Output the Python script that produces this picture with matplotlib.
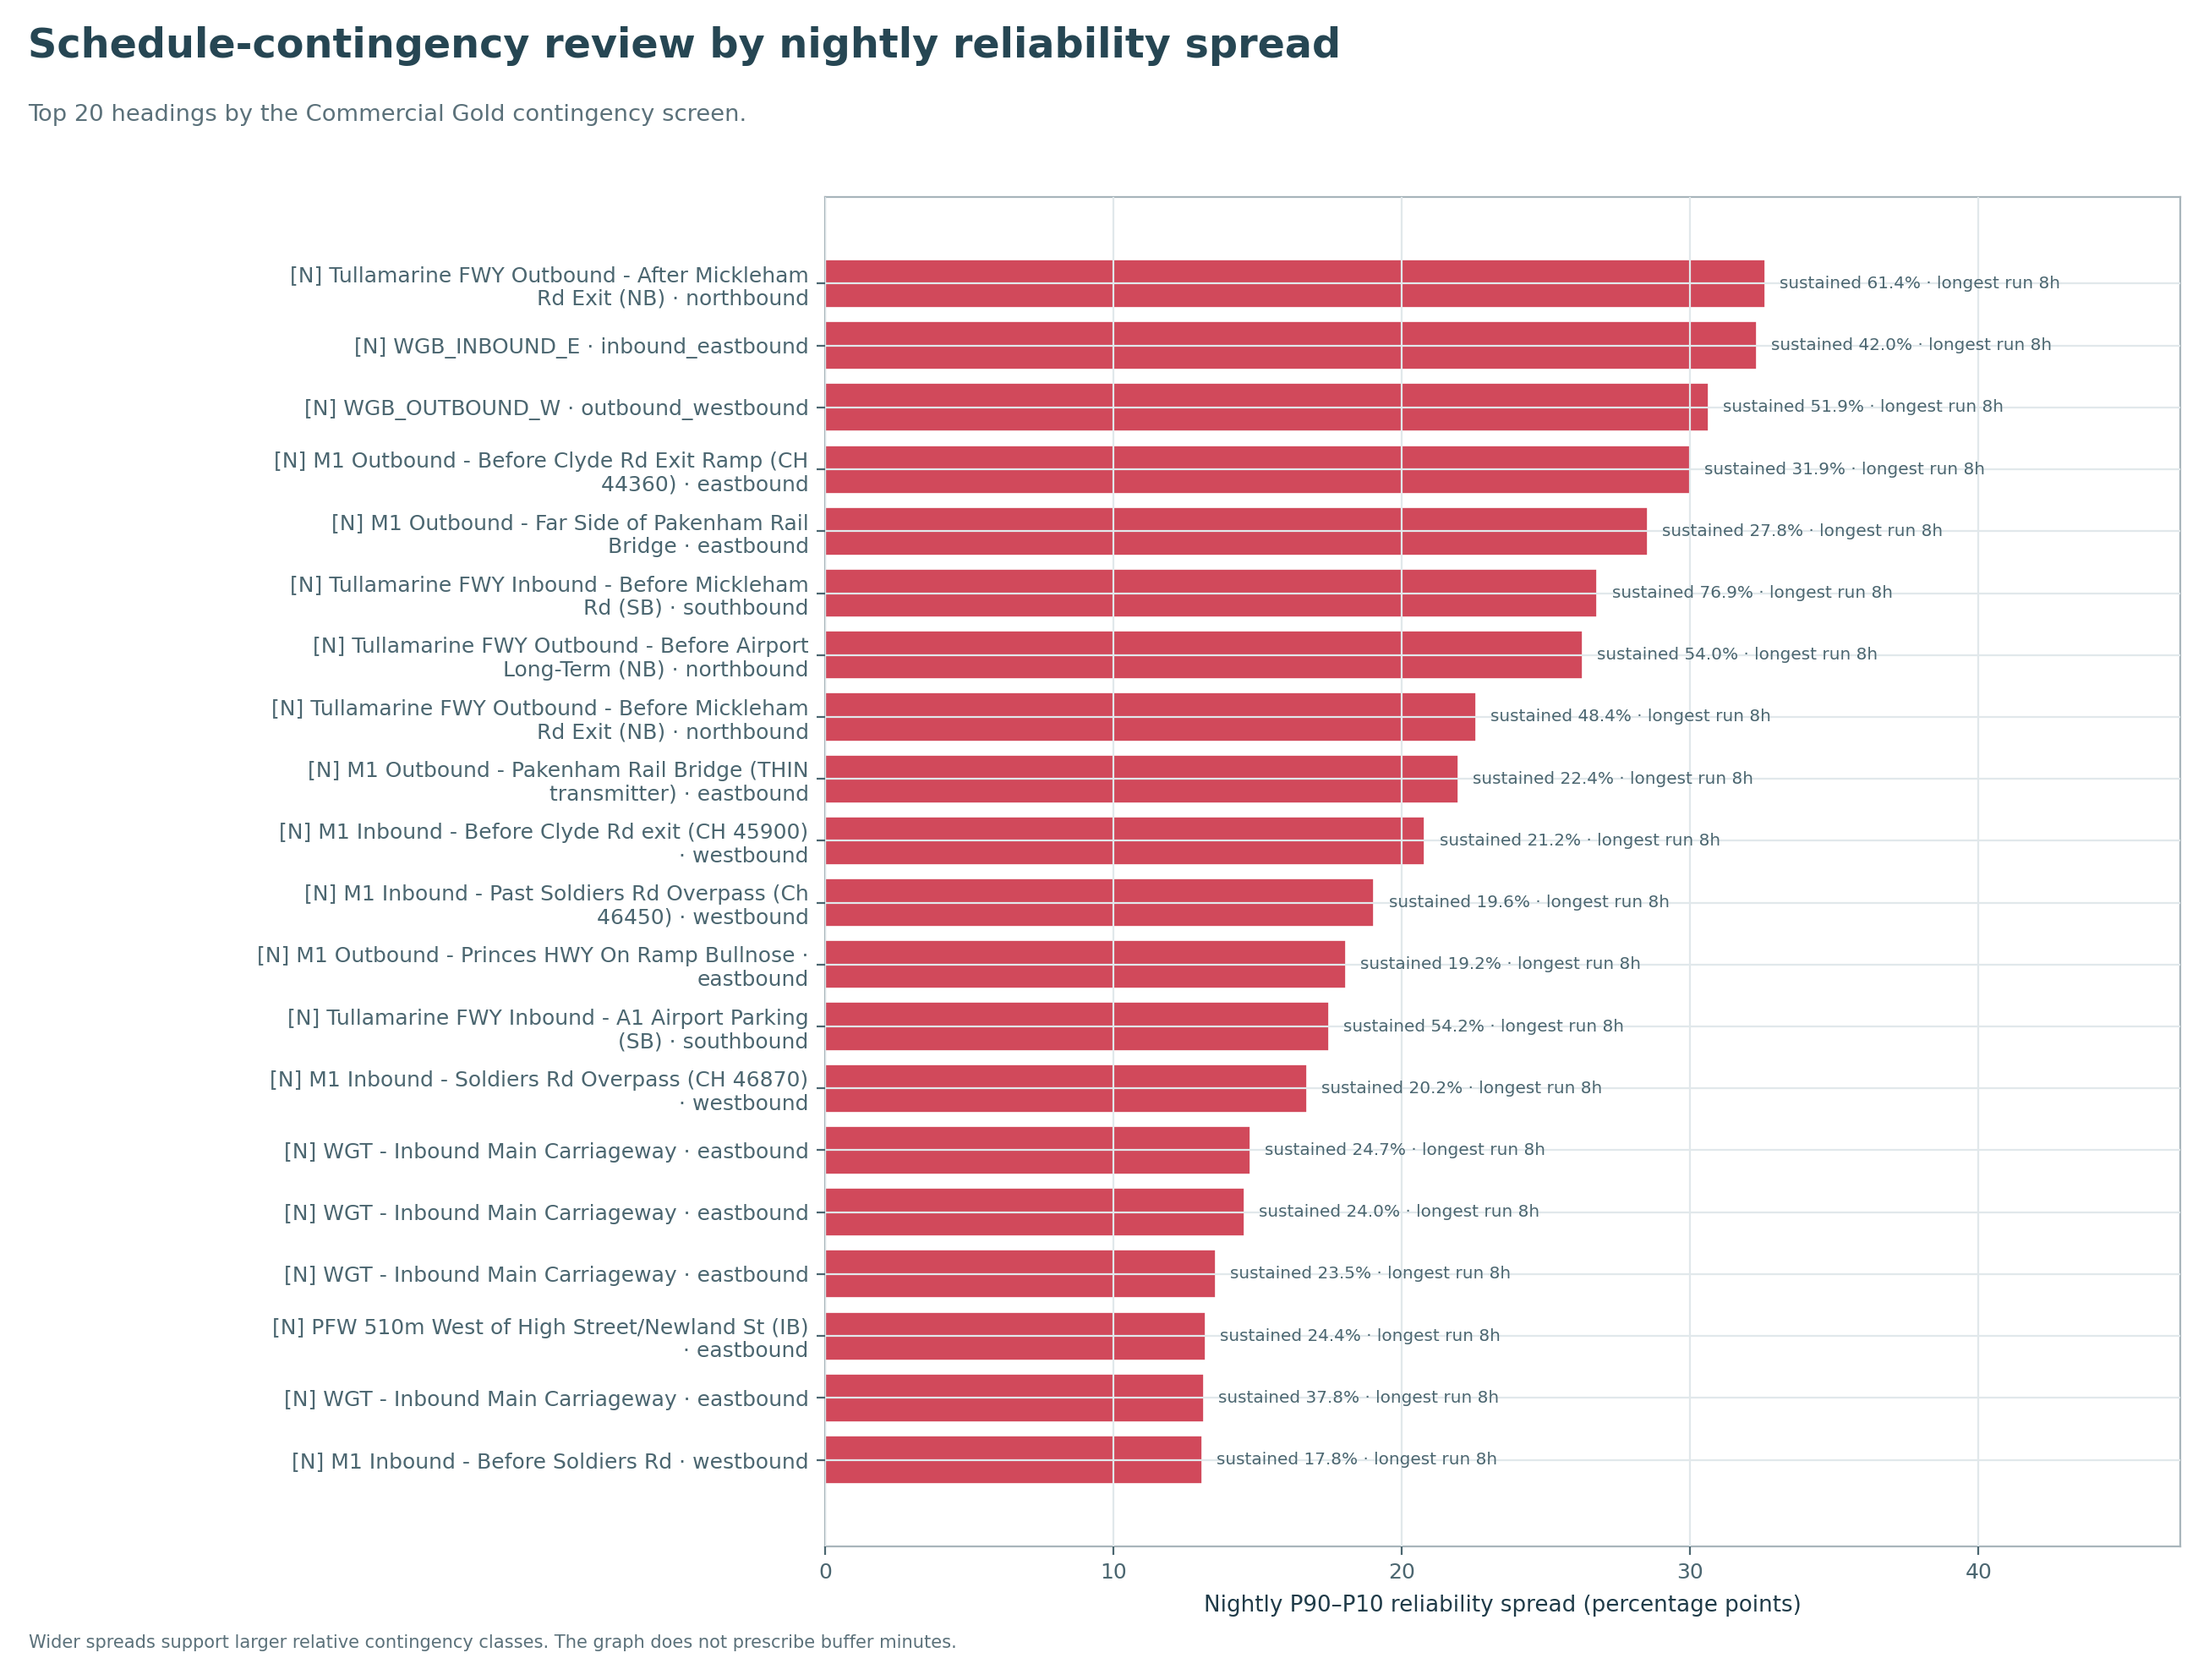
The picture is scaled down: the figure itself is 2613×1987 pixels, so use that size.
import textwrap
import matplotlib
matplotlib.use("Agg")
import matplotlib.pyplot as plt

plt.rcParams['font.family'] = ['DejaVu Sans']

labels = [
    "[N] Tullamarine FWY Outbound - After Mickleham Rd Exit (NB) · northbound",
    "[N] WGB_INBOUND_E · inbound_eastbound",
    "[N] WGB_OUTBOUND_W · outbound_westbound",
    "[N] M1 Outbound - Before Clyde Rd Exit Ramp (CH 44360) · eastbound",
    "[N] M1 Outbound - Far Side of Pakenham Rail Bridge · eastbound",
    "[N] Tullamarine FWY Inbound - Before Mickleham Rd (SB) · southbound",
    "[N] Tullamarine FWY Outbound - Before Airport Long-Term (NB) · northbound",
    "[N] Tullamarine FWY Outbound - Before Mickleham Rd Exit (NB) · northbound",
    "[N] M1 Outbound - Pakenham Rail Bridge (THIN transmitter) · eastbound",
    "[N] M1 Inbound - Before Clyde Rd exit (CH 45900) · westbound",
    "[N] M1 Inbound - Past Soldiers Rd Overpass (Ch 46450) · westbound",
    "[N] M1 Outbound - Princes HWY On Ramp Bullnose · eastbound",
    "[N] Tullamarine FWY Inbound - A1 Airport Parking (SB) · southbound",
    "[N] M1 Inbound - Soldiers Rd Overpass (CH 46870) · westbound",
    "[N] WGT - Inbound Main Carriageway · eastbound",
    "[N] WGT - Inbound Main Carriageway · eastbound",
    "[N] WGT - Inbound Main Carriageway · eastbound",
    "[N] PFW 510m West of High Street/Newland St (IB) · eastbound",
    "[N] WGT - Inbound Main Carriageway · eastbound",
    "[N] M1 Inbound - Before Soldiers Rd · westbound",
]

spread = [32.59, 32.31, 30.63, 29.98, 28.52, 26.78, 26.28, 22.56, 21.97, 20.80,
          19.04, 18.07, 17.48, 16.70, 14.75, 14.55, 13.53, 13.18, 13.13, 13.07]

sustained = [61.4, 42.0, 51.9, 31.9, 27.8, 76.9, 54.0, 48.4, 22.4, 21.2,
             19.6, 19.2, 54.2, 20.2, 24.7, 24.0, 23.5, 24.4, 37.8, 17.8]

longest_run = [8] * 20

W, H = 2613, 1987
DPI = 200
fig = plt.figure(figsize=(W / DPI, H / DPI), dpi=DPI)

left, right, top, bottom = 976 / W, 2579 / W, 1 - 233 / H, 1 - 1829 / H
ax = fig.add_axes([left, bottom, right - left, top - bottom])

bar_color = "#d1495b"
grid_color = "#e1e8eb"
spine_color = "#a8b5bb"
tick_color = "#4b6670"
text_color = "#4b6670"

n = len(spread)
ypos = list(range(n))
ax.barh(ypos, spread, height=0.78, color=bar_color, edgecolor="white",
        linewidth=0.6, zorder=1)

ax.set_yticks(ypos)
ax.set_yticklabels([textwrap.fill(l, width=48) for l in labels])
ax.set_ylim(n - 1 + 1.4, -1.4)
xmax = max(spread) * 1.442
ax.set_xlim(0, xmax)
ax.set_xticks([0, 10, 20, 30, 40])

ax.grid(True, color=grid_color, linewidth=0.8, zorder=1.5)
ax.set_axisbelow(False)

for s in ax.spines.values():
    s.set_color(spine_color)
    s.set_linewidth(0.8)

ax.tick_params(axis="both", colors=tick_color, labelsize=9, length=3.5, width=0.8)
ax.tick_params(axis="y", labelcolor=text_color)
ax.tick_params(axis="x", labelcolor=text_color)

ax.set_xlabel("Nightly P90\u2013P10 reliability spread (percentage points)",
              fontsize=9.4, color="#1f3b48", labelpad=5)

for y, v, s, r in zip(ypos, spread, sustained, longest_run):
    ax.text(v + 0.5, y, f"sustained {s:.1f}% \u00b7 longest run {r}h",
            va="center", ha="left", fontsize=7.2, color="#4b6670", zorder=3)

fig.text(33 / W, 1 - 31 / H, "Schedule-contingency review by nightly reliability spread",
         fontsize=17.2, fontweight="bold", color="#264653", ha="left", va="top")
fig.text(33 / W, 1 - 123 / H, "Top 20 headings by the Commercial Gold contingency screen.",
         fontsize=9.85, color="#5b717a", ha="left", va="top")
fig.text(34 / W, 1 - 1949 / H,
         "Wider spreads support larger relative contingency classes. The graph does not prescribe buffer minutes.",
         fontsize=7.55, color="#5b717a", ha="left", va="baseline")

fig.savefig("out.png", dpi=DPI)
